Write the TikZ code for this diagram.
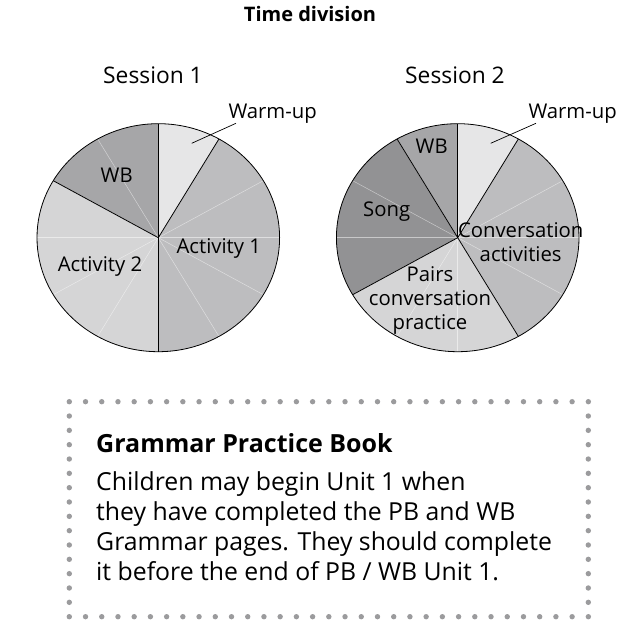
\documentclass[tikz,border=0pt]{standalone}
\usepackage{fontspec}
\setmainfont{Open Sans}
\usetikzlibrary{positioning, calc}

\definecolor{warmup}{HTML}{E6E6E7}
\definecolor{actone}{HTML}{BDBDBF}
\definecolor{acttwo}{HTML}{D5D5D6}
\definecolor{wbgray}{HTML}{A6A6A8}
\definecolor{songgray}{HTML}{929294}
\definecolor{dotgray}{HTML}{9B9B9D}

\begin{document}
\begin{tikzpicture}[x=1pt, y=1pt,
    lbl/.style={font=\fontsize{20.3}{24}\selectfont, align=center, inner sep=0},
    sep/.style={black, line width=0.8pt},
    faint/.style={white, opacity=0.5, line width=0.5pt},
    dot/.style={fill=dotgray, circle, inner sep=0, minimum size=5.4pt},
    boxtext/.style={font=\fontsize{24.8}{30.3}\selectfont, anchor=base west, inner sep=0}]
  \useasboundingbox (0,0) rectangle (644,621);
  \node [font=\bfseries\fontsize{20}{26}\selectfont, anchor=base] (title) at (310,599.3) {Time division};
  \node [lbl, font=\fontsize{22.8}{28}\selectfont, anchor=base] (ses1) at (153,537.7) {Session 1};
  \node [lbl, font=\fontsize{22.8}{28}\selectfont, anchor=base] (ses2) at (455,537.7) {Session 2};
  % session 1
  \begin{scope}[shift={(158.3,383.3)}]
    \coordinate (O1) at (0,0);
    \foreach \a/\b/\c in {90/60/warmup, 60/-90/actone, -90/-210/acttwo, -210/-270/wbgray}
      {\fill [\c] (O1) -- (\a:121.3 and 114) arc [start angle=\a, end angle=\b, x radius=121.3, y radius=114] -- cycle;}
    \foreach \a in {0,30,...,330} {\draw [faint] (O1) -- (\a:121.3 and 114);}
    \foreach \a in {90,60,-90,150} {\draw [sep] (O1) -- (\a:121.3 and 114);}
    \draw [sep] (O1) ellipse [x radius=121.3, y radius=114];
    \node [lbl] (wb1) at (-41.6,62.7) {WB};
    \node [lbl] (act1) at (60.5,-10.6) {Activity 1};
    \node [lbl] (act2) at (-58.3,-29) {Activity 2};
    \coordinate (wu1) at (33.4,94.4);
  \end{scope}
  \node [lbl, anchor=base west] (warm1) at (228.3,502.7) {Warm-up};
  \draw [sep, line width=0.7pt] (wu1) -- ([xshift=7.7pt, yshift=-5pt]warm1.base west);
  % session 2
  \begin{scope}[shift={(457.7,383.3)}]
    \coordinate (O2) at (0,0);
    \foreach \a/\b/\c in {90/60/warmup, 60/-60/actone, -60/-150/acttwo, -150/-240/songgray, -240/-270/wbgray}
      {\fill [\c] (O2) -- (\a:121.3 and 114) arc [start angle=\a, end angle=\b, x radius=121.3, y radius=114] -- cycle;}
    \foreach \a in {0,30,...,330} {\draw [faint] (O2) -- (\a:121.3 and 114);}
    \foreach \a in {90,60,-60,-150,120} {\draw [sep] (O2) -- (\a:121.3 and 114);}
    \draw [sep] (O2) ellipse [x radius=121.3, y radius=114];
    \node [lbl] (wb2) at (-26,91) {WB};
    \node [lbl] (song) at (-71,26) {Song};
    \node [lbl] (conv) at (63,-4.3) {Conversation\\activities};
    \node [lbl] (pairs) at (-27.7,-62.3) {Pairs\\conversation\\practice};
    \coordinate (wu2) at (33,94.4);
  \end{scope}
  \node [lbl, anchor=base west] (warm2) at (528.3,502.7) {Warm-up};
  \draw [sep, line width=0.7pt] (wu2) -- ([xshift=7.7pt, yshift=-5pt]warm2.base west);
  % grammar box
  \coordinate (boxNW) at (69.3,219.3);
  \coordinate (boxSW) at (69.3,4.3);
  \coordinate (boxNE) at (588.3,219.3);
  \foreach \i in {0,...,32} {
    \node [dot] at ($(boxNW)+(\i*16.22,0)$) {};
    \node [dot] at ($(boxSW)+(\i*16.22,0)$) {};
  }
  \foreach \j in {1,...,14} {
    \node [dot] at ($(boxNW)+(0,-\j*14.33)$) {};
    \node [dot] at ($(boxNE)+(0,-\j*14.33)$) {};
  }
  \node [boxtext, font=\bfseries\fontsize{25}{28}\selectfont] (head) at (96,169) {Grammar Practice Book};
  \node [boxtext] (body1) at (96,131) {Children may begin Unit 1 when};
  \node [boxtext] (body2) at (96,100.7) {they have completed the PB and WB};
  \node [boxtext] (body3) at (96,70.4) {Grammar pages. They should complete};
  \node [boxtext] (body4) at (96,40.1) {it before the end of PB / WB Unit 1.};
\end{tikzpicture}
\end{document}
